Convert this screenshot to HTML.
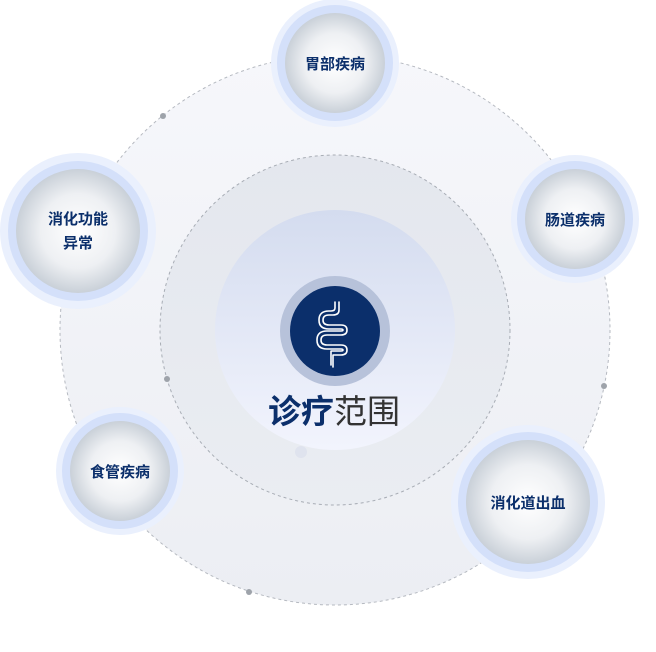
<!DOCTYPE html>
<html><head><meta charset="utf-8"><style>
html,body{margin:0;padding:0;background:#fff;}
svg{display:block;font-family:"Liberation Sans","Noto Sans CJK SC",sans-serif;}
</style></head><body>
<svg width="656" height="652" viewBox="0 0 656 652" xmlns="http://www.w3.org/2000/svg">
<defs>
<radialGradient id="bub" cx="50%" cy="50%" r="50%">
<stop offset="0" stop-color="#ffffff"/><stop offset="0.6" stop-color="#eef0f3"/><stop offset="1" stop-color="#c9d0d8"/>
</radialGradient>
<linearGradient id="big" x1="0" y1="0" x2="0" y2="1">
<stop offset="0" stop-color="#f6f7fb"/><stop offset="1" stop-color="#eceef3"/>
</linearGradient>
<linearGradient id="mid" x1="0" y1="0" x2="0" y2="1">
<stop offset="0" stop-color="#e4e7ee"/><stop offset="1" stop-color="#eaedf2"/>
</linearGradient>
<linearGradient id="inner" x1="0" y1="0" x2="0" y2="1">
<stop offset="0" stop-color="#d4dcef"/><stop offset="1" stop-color="#f2f4fd"/>
</linearGradient>
</defs>
<circle cx="335" cy="330" r="275" fill="url(#big)" stroke="#b5b9c0" stroke-width="1" stroke-dasharray="3,3"/>
<circle cx="335" cy="330" r="175" fill="url(#mid)" stroke="#a8adb5" stroke-width="1" stroke-dasharray="3,3"/>
<circle cx="335" cy="330" r="120" fill="url(#inner)"/>
<circle cx="163" cy="116" r="3" fill="#9ea3aa"/>
<circle cx="604" cy="386" r="3" fill="#9ea3aa"/>
<circle cx="249" cy="592" r="3" fill="#9ea3aa"/>
<circle cx="167" cy="379" r="3" fill="#9ea3aa"/>
<circle cx="301" cy="452" r="6" fill="#dfe3ee"/>
<circle cx="335" cy="331" r="55" fill="#b7c2da"/>
<circle cx="335" cy="331" r="45" fill="#0b2f6b"/>
<g fill="none" stroke="#fff" stroke-width="1.6" stroke-linecap="round" stroke-linejoin="round">
<path d="M339 302 v8 q0 5 -6 5 h-4 q-6 0 -6 5 q0 5 6 5 h12 q6 0 6 5 q0 5 -6 5 h-14 q-6 0 -6 5 q0 5 6 5 h14 q6 0 6 5 q0 5 -6 5 h-8 v12"/>
<path d="M335 302 v6 q0 3 -4 3 h-2 q-10 0 -10 9 q0 9 10 9 h12 q2 0 2 1 q0 1 -2 1 h-14 q-10 0 -10 9 q0 9 10 9 h14 q2 0 2 1 q0 1 -2 1 h-10 v14"/>
</g>
<text x="334" y="423" font-size="33" text-anchor="middle"><tspan fill="#0b2f6b" font-weight="bold">诊疗</tspan><tspan fill="#333">范围</tspan></text>
<g font-size="15" font-weight="bold" fill="#0b2f6b" text-anchor="middle">
<g><circle cx="335" cy="63" r="64" fill="#eaf0fd"/><circle cx="335" cy="63" r="58" fill="#d4e0fa"/><circle cx="335" cy="63" r="50" fill="url(#bub)"/><text x="335" y="69">胃部疾病</text></g>
<g><circle cx="575" cy="219" r="64" fill="#eaf0fd"/><circle cx="575" cy="219" r="58" fill="#d4e0fa"/><circle cx="575" cy="219" r="50" fill="url(#bub)"/><text x="575" y="225">肠道疾病</text></g>
<g><circle cx="78" cy="231" r="78" fill="#eaf0fd"/><circle cx="78" cy="231" r="70" fill="#d4e0fa"/><circle cx="78" cy="231" r="62" fill="url(#bub)"/><text x="78" y="224">消化功能</text><text x="78" y="248">异常</text></g>
<g><circle cx="120" cy="471" r="64" fill="#eaf0fd"/><circle cx="120" cy="471" r="58" fill="#d4e0fa"/><circle cx="120" cy="471" r="50" fill="url(#bub)"/><text x="120" y="477">食管疾病</text></g>
<g><circle cx="528" cy="502" r="77" fill="#eaf0fd"/><circle cx="528" cy="502" r="70" fill="#d4e0fa"/><circle cx="528" cy="502" r="62" fill="url(#bub)"/><text x="528" y="508">消化道出血</text></g>
</g>
</svg>
</body></html>
